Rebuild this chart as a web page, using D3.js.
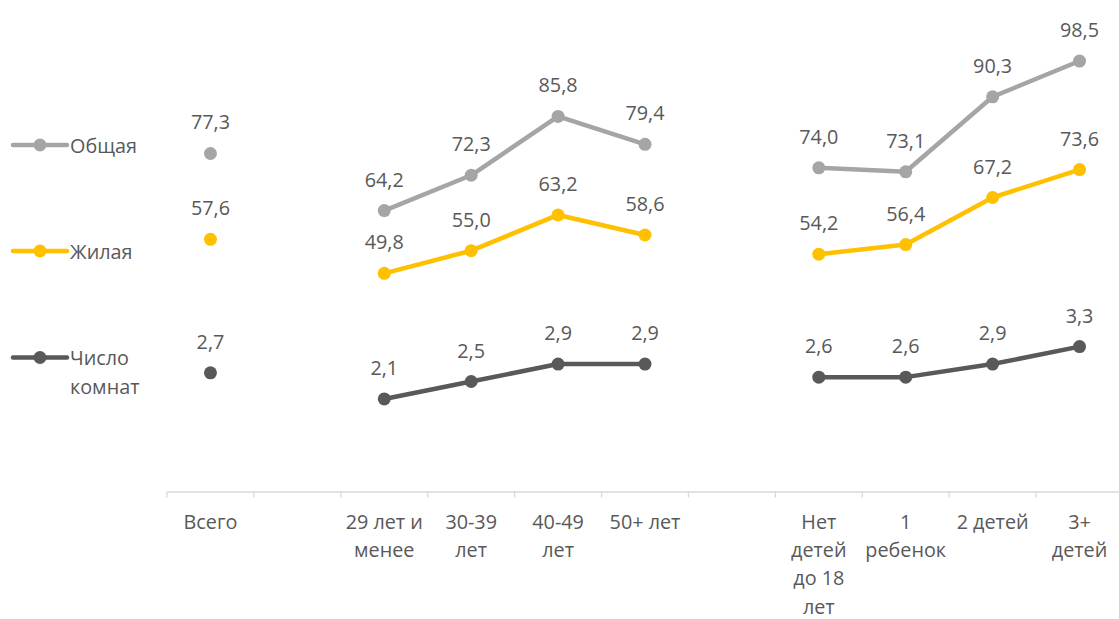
<!DOCTYPE html>
<html><head><meta charset="utf-8">
<script src="https://cdn.jsdelivr.net/npm/d3@7"></script>
<style>body{margin:0;background:#fff}text{font-family:"Open Sans",sans-serif;fill:#595959}</style>
</head><body><svg id="c" width="1119" height="619"></svg>
<script>
const categories = ["Всего", "", "29 лет и\nменее", "30-39\nлет", "40-49\nлет", "50+ лет", "", "Нет\nдетей\nдо 18\nлет", "1\nребенок", "2 детей", "3+\nдетей"];
const totalArea = [77.3, null, 64.2, 72.3, 85.8, 79.4, null, 74.0, 73.1, 90.3, 98.5];
const livingArea = [57.6, null, 49.8, 55.0, 63.2, 58.6, null, 54.2, 56.4, 67.2, 73.6];
const rooms = [2.7, null, 2.1, 2.5, 2.9, 2.9, null, 2.6, 2.6, 2.9, 3.3];
const seriesNames = ["Общая", "Жилая", "Число\nкомнат"];
const seriesColors = ["#A5A5A5", "#FFC000", "#595959"];

const FS = 19.8;
const svg = d3.select("#c");
const x = d3.scaleBand().domain(d3.range(categories.length)).range([167, 1123]);
const y = d3.scaleLinear().domain([0, 110]).range([490.5, 10.9]);
const y2 = d3.scaleLinear().domain([0, 11]).range([490.5, 10.9]);

// axis
const axis = d3.axisBottom(x).tickSize(0).tickFormat("");
const ag = svg.append("g").attr("transform", "translate(0,491.5)").call(axis);
ag.select(".domain").attr("stroke", "#D9D9D9").attr("stroke-width", 1.3);
const bounds = d3.range(categories.length + 1).map(i => i < categories.length ? x(i) : x.range()[1]);
ag.selectAll(".tk").data(bounds).join("line").attr("class", "tk")
  .attr("x1", d => d).attr("x2", d => d).attr("y1", 0).attr("y2", 6)
  .attr("stroke", "#D9D9D9").attr("stroke-width", 1.3);

// category labels
categories.forEach((c, i) => {
  const t = svg.append("text").attr("text-anchor", "middle").attr("font-size", FS)
    .attr("x", x(i) + x.bandwidth() / 2).attr("y", 529);
  c.split("\n").forEach((ln, j) => t.append("tspan").attr("x", x(i) + x.bandwidth() / 2).attr("dy", j ? 28.2 : 0).text(ln));
});

const series = [
  {vals: totalArea, sc: y, color: seriesColors[0]},
  {vals: livingArea, sc: y, color: seriesColors[1]},
  {vals: rooms, sc: y2, color: seriesColors[2]}
];
const fmt = v => v.toFixed(1).replace(".", ",");

series.forEach(s => {
  const pts = s.vals.map((v, i) => ({v, i})).filter(d => d.v != null);
  const line = d3.line().defined(d => d.v != null)
    .x(d => x(d.i) + x.bandwidth() / 2).y(d => s.sc(d.v));
  svg.append("path").datum(s.vals.map((v, i) => ({v, i})))
    .attr("d", line).attr("fill", "none").attr("stroke", s.color)
    .attr("stroke-width", 4.5).attr("stroke-linejoin", "round");
  svg.selectAll(null).data(pts).join("circle")
    .attr("cx", d => x(d.i) + x.bandwidth() / 2).attr("cy", d => s.sc(d.v))
    .attr("r", 6.5).attr("fill", s.color);
  svg.selectAll(null).data(pts).join("text")
    .attr("x", d => x(d.i) + x.bandwidth() / 2).attr("y", d => s.sc(d.v) - 24)
    .attr("text-anchor", "middle").attr("font-size", FS).text(d => fmt(d.v));
});

// legend
const legY = [145, 251, 357.5];
seriesNames.forEach((n, k) => {
  const g = svg.append("g").attr("transform", `translate(0,${legY[k]})`);
  g.append("line").attr("x1", 13).attr("x2", 67).attr("stroke", seriesColors[k]).attr("stroke-width", 4.5).attr("stroke-linecap", "round");
  g.append("circle").attr("cx", 40).attr("r", 6.5).attr("fill", seriesColors[k]);
  const t = g.append("text").attr("x", 70).attr("y", 7.5).attr("font-size", FS);
  n.split("\n").forEach((ln, j) => t.append("tspan").attr("x", 70).attr("dy", j ? 29 : 0).text(ln));
});
</script></body></html>
